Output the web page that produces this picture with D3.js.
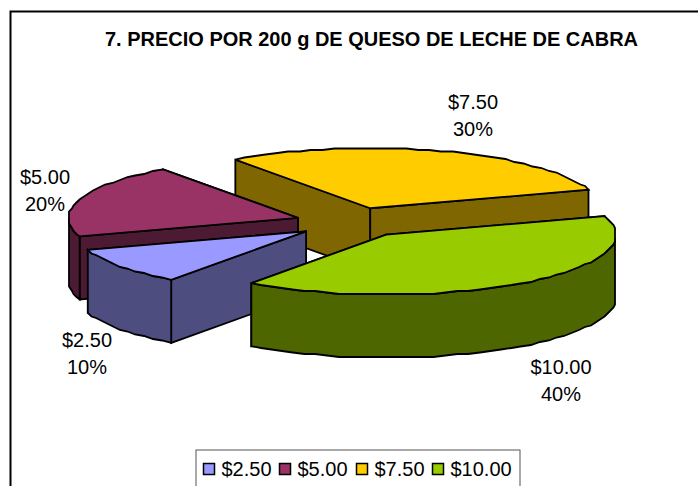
<!DOCTYPE html>
<html><head><meta charset="utf-8">
<script src="https://cdn.jsdelivr.net/npm/d3@7/dist/d3.min.js"></script>
<style>html,body{margin:0;padding:0;background:#fff}svg{display:block}text{font-family:"Liberation Sans",Arial,sans-serif;fill:#000}</style>
</head><body><svg id="c" width="698" height="486"></svg>
<script>
const title = "7. PRECIO POR 200 g DE QUESO DE LECHE DE CABRA";
const categories = ["$2.50", "$5.00", "$7.50", "$10.00"];
const values = [10, 20, 30, 40];
const percentLabels = ["10%", "20%", "30%", "40%"];
const topColors = ["#9999FF", "#993366", "#FFCC00", "#99CC00"];
const wallColors = ["#4D4D80", "#4D1A33", "#806600", "#4D6600"];
const labelBase = [[87, 347], [45, 184], [473, 109], [561, 374]];
const firstSliceAngle = 216;
const explode = 0.25;
const rx = 229.5, ry = 60, depth = 63, cx = 352.5, cy = 222.5;

const svg = d3.select("#c");
svg.append("rect").attr("x", 10.5).attr("y", 11.5).attr("width", 720).attr("height", 520)
  .attr("fill", "#fff").attr("stroke", "#000").attr("stroke-width", 2);

svg.append("text").attr("x", 371.5).attr("y", 45.5).attr("text-anchor", "middle")
  .attr("font-weight", "bold").attr("font-size", 20)
  .attr("textLength", 533).attr("lengthAdjust", "spacingAndGlyphs").text(title);

const start = firstSliceAngle * Math.PI / 180;
const arcs = d3.pie().sort(null).startAngle(start).endAngle(start + 2 * Math.PI)(values);
const px = d3.scaleLinear().domain([-1, 1]).range([-rx, rx]);
const py = d3.scaleLinear().domain([-1, 1]).range([-ry, ry]);
const pt = (o, phi, dz = 0) => [o[0] + px(Math.sin(phi)), o[1] + py(-Math.cos(phi)) + dz];
// the rim in the original is a coarse polyline snapped to a pixel grid
const snap = p => [Math.round(p[0] / 1.5) * 1.5, Math.round(p[1] / 1.5) * 1.5];
const line = d3.line();
const rimAngles = a => {
  const n = Math.max(2, Math.round((a.endAngle - a.startAngle) / (3 * Math.PI / 180)));
  return d3.range(0, n + 1).map(k => a.startAngle + (a.endAngle - a.startAngle) * k / n);
};
const rimPoint = (o, phi, a, dz = 0) => {
  const p = pt(o, phi, dz);
  return (phi === a.startAngle || phi === a.endAngle) ? p : snap(p);
};

const slices = arcs.map((a, i) => {
  const mid = (a.startAngle + a.endAngle) / 2;
  const o = [cx + explode * px(Math.sin(mid)), cy + explode * py(-Math.cos(mid))];
  return {a, i, o};
}).sort((p, q) => p.o[1] - q.o[1]);

const style = (sel, fill) => sel.attr("fill", fill).attr("stroke", "#000")
  .attr("stroke-width", 1.8).attr("stroke-linejoin", "miter").attr("stroke-miterlimit", 3);

slices.forEach(({a, i, o}) => {
  const g = svg.append("g");
  const walls = [a.startAngle, a.endAngle].map(phi => {
    const p = pt(o, phi);
    return {phi, y: (p[1] + o[1]) / 2};
  }).sort((u, v) => u.y - v.y);
  walls.forEach(w => {
    const p = pt(o, w.phi);
    const poly = [o, p, [p[0], p[1] + depth], [o[0], o[1] + depth]];
    style(g.append("path").attr("d", line(poly) + "Z"), wallColors[i]);
  });
  const rim = rimAngles(a).filter(phi => Math.cos(phi) < 0);
  if (rim.length > 1) {
    const front = rim.map(phi => rimPoint(o, phi, a));
    const back = rim.slice().reverse().map(phi => rimPoint(o, phi, a, depth));
    style(g.append("path").attr("d", line(front.concat(back)) + "Z"), wallColors[i]);
  }
  const edge = rimAngles(a).map(phi => rimPoint(o, phi, a));
  style(g.append("path").attr("d", line([o].concat(edge)) + "Z"), topColors[i]);
});

categories.forEach((c, i) => {
  const [x, y] = labelBase[i];
  svg.append("text").attr("x", x).attr("y", y).attr("text-anchor", "middle").attr("font-size", 20).text(c);
  svg.append("text").attr("x", x).attr("y", y + 27).attr("text-anchor", "middle").attr("font-size", 20).text(percentLabels[i]);
});

svg.append("rect").attr("x", 196).attr("y", 450).attr("width", 324).attr("height", 60)
  .attr("fill", "#fff").attr("stroke", "#555").attr("stroke-width", 1);
const swatchX = [203.5, 279.5, 356.5, 432.5];
categories.forEach((c, i) => {
  svg.append("rect").attr("x", swatchX[i]).attr("y", 463.5).attr("width", 11).attr("height", 11)
    .attr("fill", topColors[i]).attr("stroke", "#000").attr("stroke-width", 1.5);
  svg.append("text").attr("x", swatchX[i] + 18).attr("y", 475.5).attr("font-size", 20).text(c);
});
</script></body></html>
